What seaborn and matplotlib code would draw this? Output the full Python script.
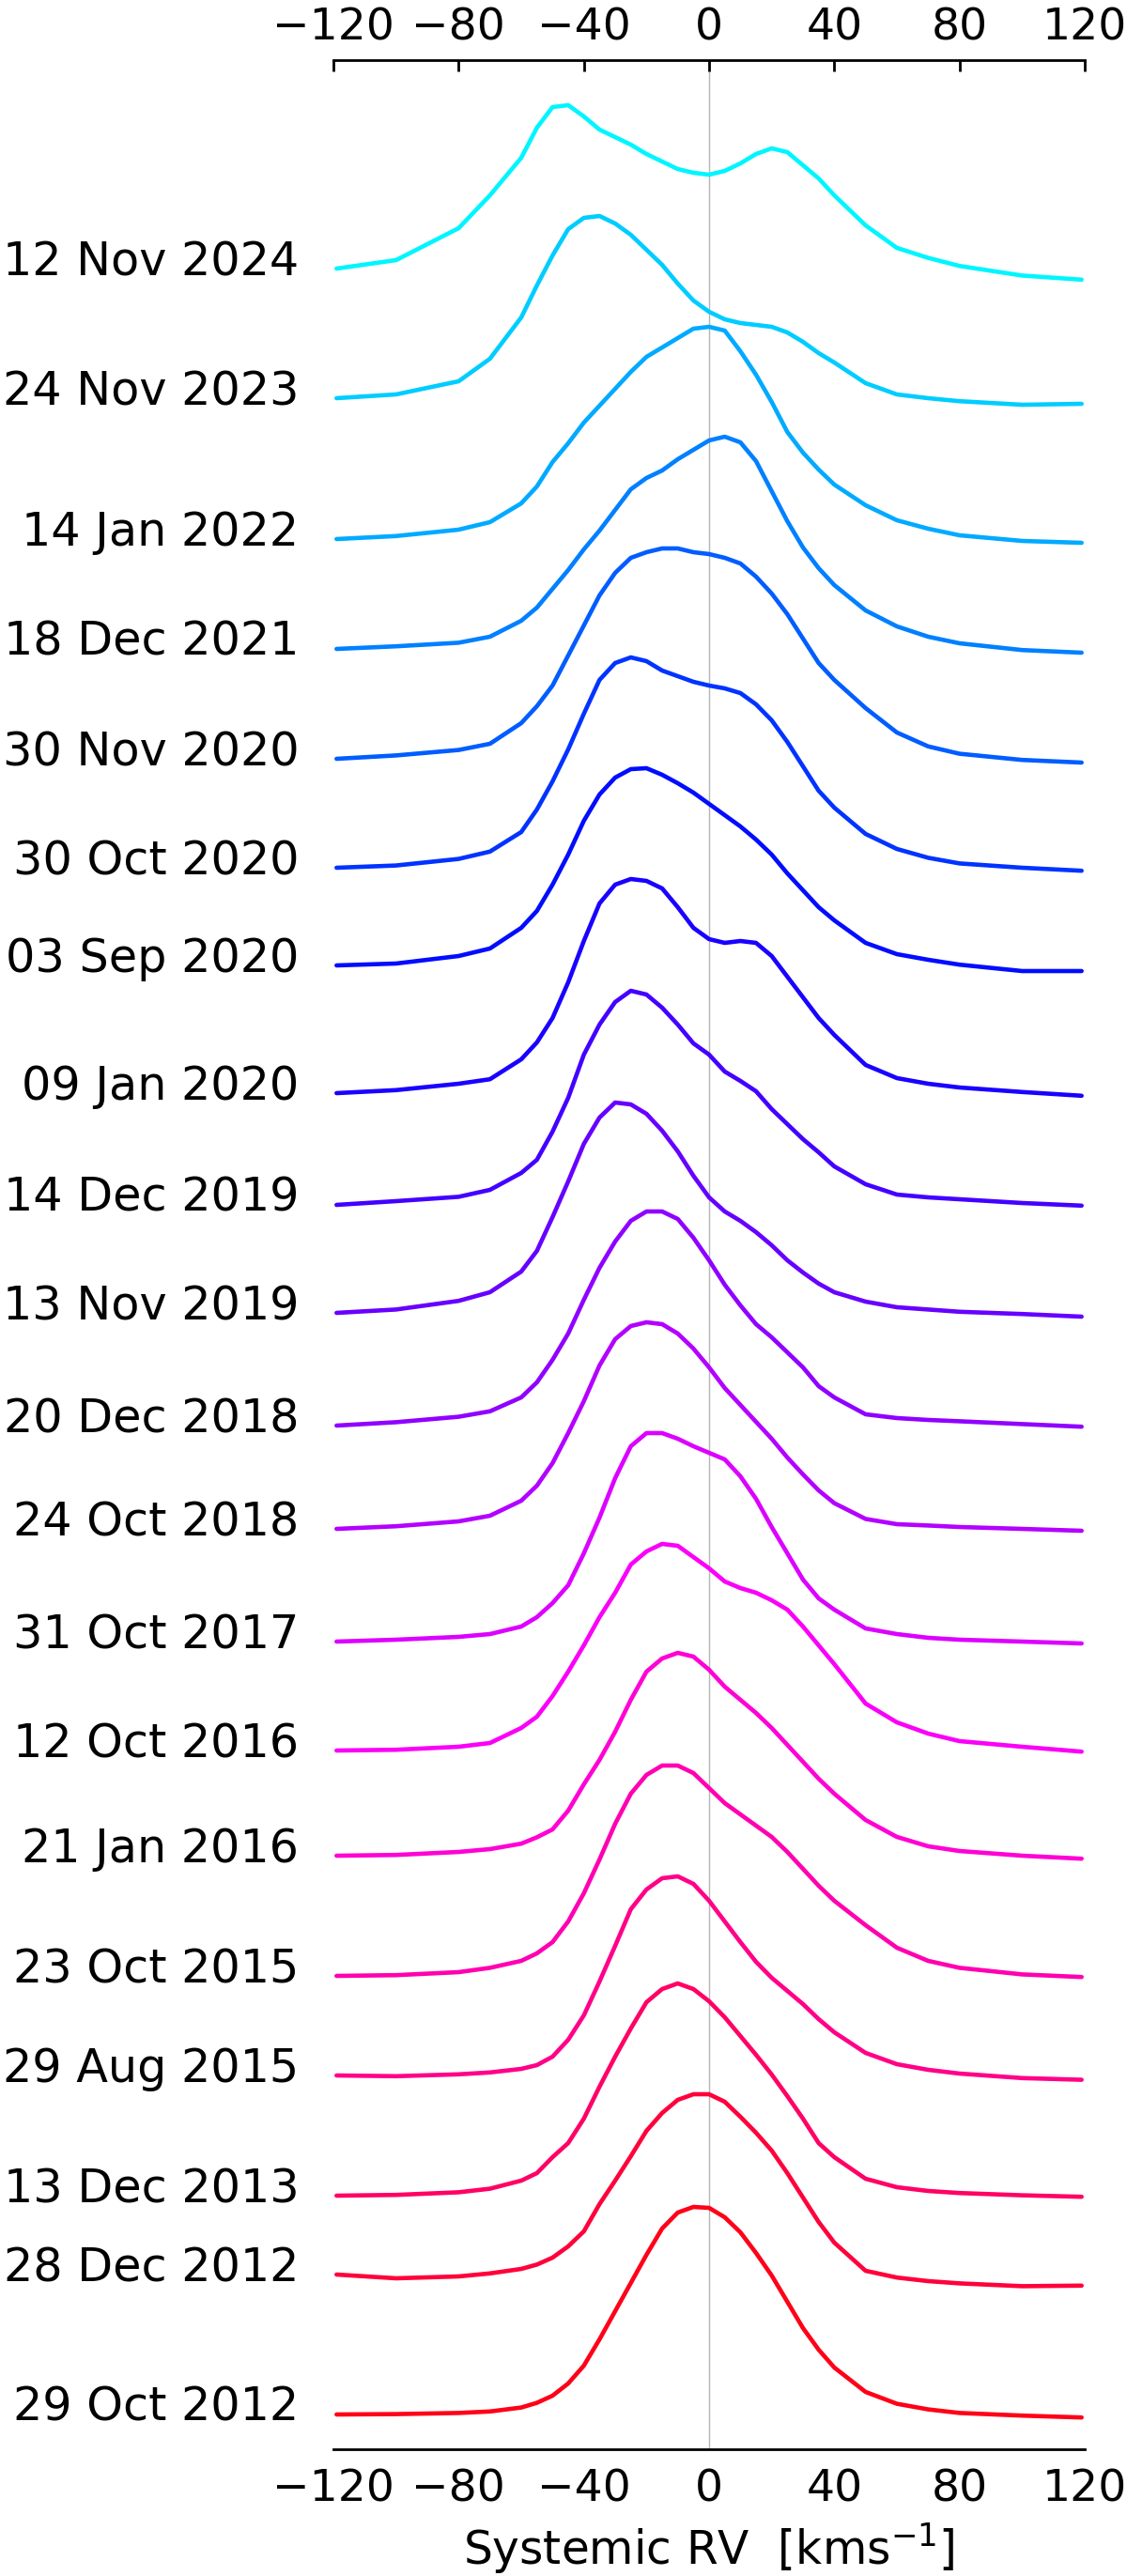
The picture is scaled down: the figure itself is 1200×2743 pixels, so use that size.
import numpy as np
import pandas as pd
import matplotlib.pyplot as plt
import seaborn as sns

sns.set_theme(style="white")
plt.rcParams['font.family'] = ['DejaVu Sans']

# velocity grid (km/s)
rv = [-119, -100, -80, -70, -60, -55, -50, -45, -40, -35, -30, -25, -20, -15, -10, -5,
      0, 5, 10, 15, 20, 25, 30, 35, 40, 50, 60, 70, 80, 100, 119]

dates = ["12 Nov 2024", "24 Nov 2023", "14 Jan 2022", "18 Dec 2021", "30 Nov 2020",
         "30 Oct 2020", "03 Sep 2020", "09 Jan 2020", "14 Dec 2019", "13 Nov 2019",
         "20 Dec 2018", "24 Oct 2018", "31 Oct 2017", "12 Oct 2016", "21 Jan 2016",
         "23 Oct 2015", "29 Aug 2015", "13 Dec 2013", "28 Dec 2012", "29 Oct 2012"]

# vertical offset of each profile
offsets = [11.61, 10.92, 10.17, 9.585, 9.00, 8.42, 7.90, 7.22, 6.625, 6.05,
           5.45, 4.90, 4.30, 3.72, 3.16, 2.52, 1.99, 1.35, 0.93, 0.185]

# line profiles (relative flux above continuum)
p2024 = [0, 0.045, 0.215, 0.39, 0.59, 0.75, 0.86, 0.87, 0.81, 0.74, 0.70, 0.66, 0.61, 0.57, 0.53, 0.51,
         0.50, 0.52, 0.56, 0.61, 0.64, 0.62, 0.55, 0.48, 0.39, 0.23, 0.11, 0.057, 0.014, -0.037, -0.059]
p2023 = [0, 0.02, 0.09, 0.21, 0.43, 0.60, 0.76, 0.90, 0.96, 0.97, 0.93, 0.87, 0.79, 0.71, 0.61, 0.52,
         0.46, 0.42, 0.40, 0.39, 0.38, 0.35, 0.30, 0.24, 0.19, 0.08, 0.02, 0.0, -0.016, -0.035, -0.03]
p2022 = [0, 0.016, 0.05, 0.09, 0.19, 0.28, 0.41, 0.51, 0.62, 0.71, 0.80, 0.89, 0.97, 1.02, 1.07, 1.12,
         1.13, 1.11, 1.00, 0.875, 0.73, 0.57, 0.46, 0.37, 0.29, 0.18, 0.10, 0.055, 0.02, -0.01, -0.02]
p2021 = [0, 0.014, 0.033, 0.065, 0.15, 0.22, 0.32, 0.42, 0.53, 0.63, 0.74, 0.85, 0.91, 0.95, 1.01, 1.06,
         1.11, 1.13, 1.10, 1.00, 0.84, 0.68, 0.54, 0.43, 0.34, 0.205, 0.12, 0.065, 0.03, -0.006, -0.02]
p2020n = [0, 0.018, 0.047, 0.08, 0.19, 0.28, 0.39, 0.55, 0.71, 0.87, 0.99, 1.07, 1.10, 1.12, 1.12, 1.10,
          1.09, 1.07, 1.04, 0.97, 0.88, 0.77, 0.64, 0.51, 0.42, 0.27, 0.14, 0.066, 0.027, -0.006, -0.02]
p2020o = [0, 0.012, 0.047, 0.086, 0.19, 0.31, 0.46, 0.63, 0.82, 1.00, 1.09, 1.12, 1.10, 1.05, 1.02, 0.99,
          0.97, 0.955, 0.93, 0.87, 0.785, 0.67, 0.54, 0.41, 0.32, 0.18, 0.10, 0.053, 0.023, 0.0, -0.016]
p2020s = [0, 0.01, 0.05, 0.09, 0.20, 0.29, 0.43, 0.59, 0.77, 0.91, 1.00, 1.045, 1.05, 1.015, 0.97, 0.92,
          0.86, 0.80, 0.74, 0.67, 0.59, 0.49, 0.40, 0.31, 0.24, 0.12, 0.06, 0.03, 0.004, -0.03, -0.03]
p2020j = [0, 0.016, 0.05, 0.074, 0.18, 0.27, 0.40, 0.59, 0.81, 1.01, 1.11, 1.14, 1.13, 1.09, 0.99, 0.88,
          0.82, 0.80, 0.81, 0.80, 0.73, 0.62, 0.51, 0.40, 0.31, 0.15, 0.08, 0.05, 0.03, 0.006, -0.014]
p2019d = [0, 0.02, 0.043, 0.08, 0.17, 0.24, 0.39, 0.57, 0.80, 0.96, 1.08, 1.14, 1.12, 1.05, 0.96, 0.86,
          0.80, 0.71, 0.66, 0.605, 0.51, 0.43, 0.35, 0.28, 0.205, 0.11, 0.055, 0.04, 0.03, 0.01, -0.004]
p2019n = [0, 0.018, 0.064, 0.11, 0.22, 0.33, 0.51, 0.70, 0.90, 1.04, 1.12, 1.11, 1.06, 0.97, 0.86, 0.73,
          0.615, 0.54, 0.49, 0.43, 0.36, 0.28, 0.215, 0.156, 0.11, 0.06, 0.03, 0.018, 0.006, -0.006, -0.02]
p2018d = [0, 0.018, 0.047, 0.076, 0.15, 0.23, 0.35, 0.49, 0.67, 0.84, 0.98, 1.09, 1.14, 1.14, 1.10, 1.00,
          0.88, 0.75, 0.64, 0.54, 0.47, 0.39, 0.31, 0.21, 0.15, 0.06, 0.04, 0.03, 0.023, 0.008, -0.006]
p2018o = [0, 0.014, 0.04, 0.07, 0.15, 0.23, 0.35, 0.51, 0.68, 0.87, 1.01, 1.08, 1.10, 1.09, 1.04, 0.96,
          0.86, 0.75, 0.66, 0.57, 0.48, 0.38, 0.29, 0.205, 0.137, 0.053, 0.025, 0.018, 0.01, 0.0, -0.01]
p2017 = [0, 0.01, 0.025, 0.04, 0.08, 0.13, 0.205, 0.30, 0.47, 0.66, 0.87, 1.04, 1.11, 1.11, 1.08, 1.04,
         1.005, 0.97, 0.88, 0.76, 0.61, 0.47, 0.33, 0.23, 0.17, 0.07, 0.04, 0.02, 0.01, 0.0, -0.01]
p2016o = [0, 0.004, 0.02, 0.04, 0.12, 0.18, 0.29, 0.42, 0.56, 0.71, 0.84, 0.99, 1.06, 1.10, 1.09, 1.03,
          0.97, 0.90, 0.865, 0.84, 0.80, 0.75, 0.66, 0.56, 0.46, 0.25, 0.15, 0.09, 0.05, 0.02, -0.006]
p2016j = [0, 0.004, 0.02, 0.035, 0.064, 0.098, 0.14, 0.24, 0.38, 0.51, 0.66, 0.83, 0.98, 1.05, 1.08, 1.06,
          0.99, 0.90, 0.83, 0.76, 0.68, 0.59, 0.50, 0.41, 0.33, 0.19, 0.10, 0.05, 0.025, 0.0, -0.016]
p2015o = [0, 0.004, 0.02, 0.043, 0.08, 0.12, 0.18, 0.29, 0.44, 0.62, 0.81, 0.97, 1.07, 1.12, 1.12, 1.08,
          1.00, 0.92, 0.86, 0.80, 0.74, 0.66, 0.57, 0.48, 0.40, 0.27, 0.15, 0.08, 0.043, 0.008, -0.006]
p2015a = [0, -0.004, 0.006, 0.016, 0.035, 0.055, 0.10, 0.19, 0.32, 0.50, 0.69, 0.885, 0.99, 1.05, 1.06, 1.02,
          0.93, 0.82, 0.71, 0.605, 0.52, 0.45, 0.38, 0.30, 0.23, 0.12, 0.06, 0.03, 0.01, -0.014, -0.023]
p2013 = [0, 0.004, 0.018, 0.037, 0.08, 0.12, 0.205, 0.28, 0.41, 0.58, 0.74, 0.89, 1.03, 1.10, 1.13, 1.10,
         1.035, 0.95, 0.85, 0.75, 0.645, 0.53, 0.41, 0.28, 0.205, 0.09, 0.045, 0.025, 0.014, 0.002, -0.006]
p2012d = [0, -0.02, -0.01, 0.006, 0.03, 0.053, 0.09, 0.15, 0.23, 0.375, 0.50, 0.63, 0.765, 0.86, 0.93, 0.96,
          0.96, 0.92, 0.84, 0.755, 0.66, 0.54, 0.41, 0.28, 0.17, 0.02, -0.016, -0.035, -0.047, -0.062, -0.059]
p2012o = [0, 0.002, 0.008, 0.016, 0.037, 0.062, 0.10, 0.165, 0.26, 0.40, 0.55, 0.70, 0.85, 0.99, 1.075, 1.105,
          1.10, 1.05, 0.97, 0.86, 0.74, 0.60, 0.46, 0.345, 0.25, 0.12, 0.057, 0.027, 0.008, -0.006, -0.016]

profiles = [p2024, p2023, p2022, p2021, p2020n, p2020o, p2020s, p2020j, p2019d, p2019n,
            p2018d, p2018o, p2017, p2016o, p2016j, p2015o, p2015a, p2013, p2012d, p2012o]

rows = []
for d, off, prof in zip(dates, offsets, profiles):
    for v, f in zip(rv, prof):
        rows.append((d, v, f + off))
df = pd.DataFrame(rows, columns=["date", "rv", "flux"])

palette = [plt.cm.hsv(h) for h in np.linspace(0.515, 1.0, len(dates))]

fig = plt.figure(figsize=(12, 27.43), dpi=100)
ax = fig.add_axes([355 / 1200, 135 / 2743, 800 / 1200, 2544 / 2743])

sns.lineplot(data=df, x="rv", y="flux", hue="date", hue_order=dates, palette=palette,
             lw=3.3, legend=False, ax=ax, estimator=None)
ax.axvline(0, color="#b4b4b4", lw=1, zorder=0)

ax.set_xlim(-120, 120)
ax.set_ylim(0, 12.72)
ticks = list(range(-120, 121, 40))
ax.set_xticks(ticks)
ax.set_yticks([])
ax.spines["left"].set_visible(False)
ax.spines["right"].set_visible(False)
ax.spines["top"].set_visible(False)
ax.spines["bottom"].set_linewidth(2)
ax.spines["bottom"].set_color("black")
ax.tick_params(axis="x", direction="in", length=8.5, width=2,
               labelsize=34, pad=15, colors="black")

# top axis with its own label padding
top = ax.secondary_xaxis("top")
top.set_xticks(ticks)
top.spines["top"].set_linewidth(2)
top.spines["top"].set_color("black")
top.tick_params(axis="x", direction="in", length=8.5, width=2,
                labelsize=34, pad=8, colors="black")

for d, off in zip(dates, offsets):
    ax.text(-131, off + 0.035, d, ha="right", va="center", fontsize=35.5, color="black")

ax.set_ylabel("")
ax.set_xlabel("Systemic RV  [kms$^{-1}$]", fontsize=35, labelpad=8, color="black")

fig.savefig("out.png", dpi=100)
